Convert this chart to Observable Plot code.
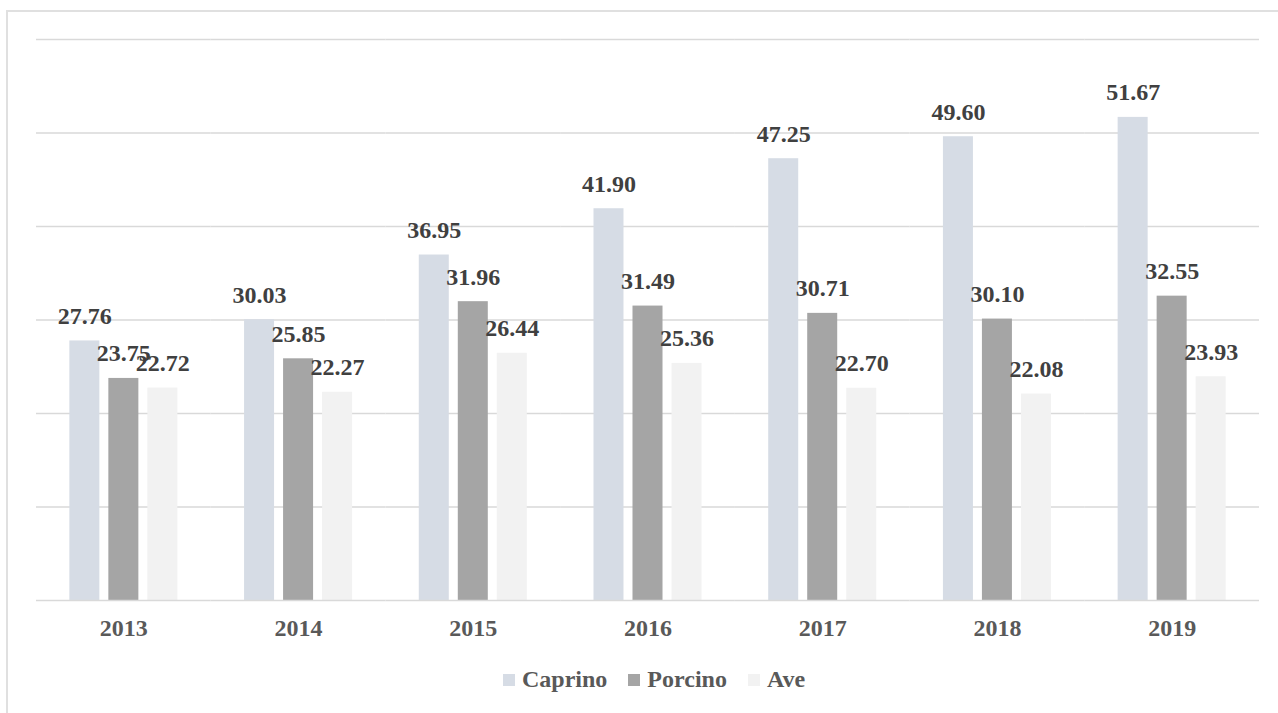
<!DOCTYPE html>
<html>
<head>
<meta charset="utf-8">
<script src="https://cdn.jsdelivr.net/npm/d3@7"></script>
<script src="https://cdn.jsdelivr.net/npm/@observablehq/plot@0.6"></script>
<style>
  html, body { margin: 0; padding: 0; background: #fff; width: 1278px; height: 713px; overflow: hidden; }
  #frame { position: absolute; left: 6px; top: 10px; width: 1300px; height: 740px; border: 2px solid #e0e0e0; box-sizing: border-box; }
  #chart { position: absolute; left: 0; top: 0; }
  #legend { position: absolute; left: 503px; top: 666px; display: flex; align-items: center;
            font-family: 'Liberation Serif', 'Times New Roman', serif; font-weight: bold; font-size: 24px; color: #595959; }
  .item { display: flex; align-items: center; margin-right: 21px; }
  .sw { width: 12px; height: 12px; margin-right: 7px; }
</style>
</head>
<body>
<div id="frame"></div>
<div id="chart"></div>
<div id="legend"></div>
<script>
const years = ["2013", "2014", "2015", "2016", "2017", "2018", "2019"];
const seriesNames = ["Caprino", "Porcino", "Ave"];
const caprino = [27.76, 30.03, 36.95, 41.90, 47.25, 49.60, 51.67];
const porcino = [23.75, 25.85, 31.96, 31.49, 30.71, 30.10, 32.55];
const ave = [22.72, 22.27, 26.44, 25.36, 22.70, 22.08, 23.93];
const colors = ["#D6DCE5", "#A5A5A5", "#F2F2F2"];
const yTicks = [0, 10, 20, 30, 40, 50, 60];

const seriesValues = [caprino, porcino, ave];
const data = [];
years.forEach((yr, i) => {
  seriesNames.forEach((s, j) => data.push({year: yr, series: s, value: seriesValues[j][i]}));
});

const font = "'Liberation Serif', 'Times New Roman', serif";

const chart = Plot.plot({
  width: 1278,
  height: 655,
  marginTop: 39,
  marginBottom: 55,
  marginLeft: 36,
  marginRight: 19,
  style: {fontFamily: font, background: "transparent", overflow: "visible"},
  fx: {domain: years, padding: 0, round: false, label: null},
  x: {domain: seriesNames, paddingInner: 9 / 39, paddingOuter: 0.855, round: false, axis: null},
  y: {domain: [0, 60], axis: null},
  color: {domain: seriesNames, range: colors},
  marks: [
    Plot.ruleY(yTicks.slice(1), {stroke: "#d9d9d9", strokeWidth: 1.5}),
    Plot.barY(data, {fx: "year", x: "series", y: "value", fill: "series"}),
    Plot.ruleY([0], {stroke: "#d9d9d9", strokeWidth: 1.5}),
    Plot.text(data, {fx: "year", x: "series", y: "value", text: d => d3.format(".2f")(d.value),
      lineAnchor: "bottom", dy: -17, fontSize: 24, fontWeight: "bold", fill: "#404040", fontFamily: font}),
    Plot.axisFx({anchor: "bottom", tickSize: 0, tickPadding: 18, fontSize: 24, fontWeight: "bold", color: "#595959", fontFamily: font, label: null})
  ]
});
document.getElementById("chart").appendChild(chart);

const legend = document.getElementById("legend");
seriesNames.forEach((s, i) => {
  const item = document.createElement("div");
  item.className = "item";
  const sw = document.createElement("div");
  sw.className = "sw";
  sw.style.background = colors[i];
  const t = document.createElement("span");
  t.textContent = s;
  item.appendChild(sw);
  item.appendChild(t);
  legend.appendChild(item);
});
</script>
</body>
</html>
